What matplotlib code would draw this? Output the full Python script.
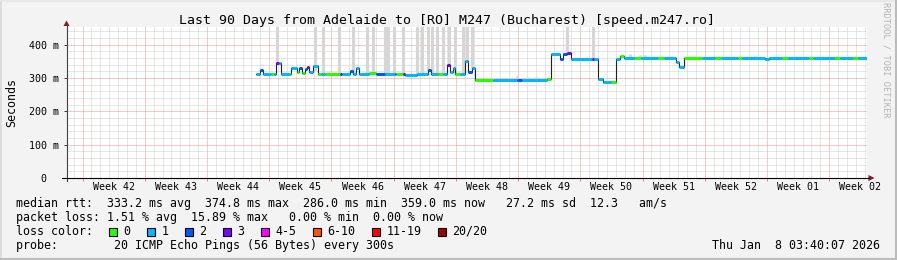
import numpy as np
import matplotlib.pyplot as plt
from matplotlib.lines import Line2D
from matplotlib.patches import Rectangle, Polygon
from matplotlib.ticker import MultipleLocator

W, H = 897, 260
plt.rcParams['font.family'] = ['DejaVu Sans Mono', 'DejaVu Sans']

# median rtt, as steps: start of each step (days since graph start), rtt (ms), loss bucket
seg_day = [21.3, 21.8, 22.1, 23.0, 23.3, 23.6, 23.85, 24.1, 25.1, 25.3, 25.9, 26.2, 26.5,
           26.8, 27.0, 27.3, 27.7, 28.3, 28.6, 29.1, 30.8, 31.0, 31.9, 32.2, 32.6, 32.9,
           34.0, 34.8, 35.8, 36.9, 37.1, 37.9, 38.1, 39.0, 39.4, 40.7, 40.95, 41.8, 42.4,
           42.8, 43.1, 43.5, 43.7, 44.3, 44.8, 45.2, 45.6, 46.0, 48.0, 50.7, 51.2, 54.1,
           54.5, 55.5, 55.9, 56.3, 56.8, 59.1, 59.3, 59.8, 60.4, 61.3, 61.8, 62.3, 62.7,
           64.0, 64.6, 66.5, 67.2, 68.6, 68.9, 69.5, 71.5, 73.0, 73.6, 75.5, 76.0, 78.6,
           79.0, 80.5, 81.2, 83.5, 84.0, 86.5, 87.0, 88.5, 89.0]
seg_rtt = [313, 324, 311, 311, 311, 346, 346, 311, 311, 331, 318, 330, 316,
           326, 334, 318, 336, 312, 311, 311, 311, 311, 322, 311, 330, 311,
           316, 313, 311, 311, 312, 312, 310, 308, 313, 325, 313, 313, 311,
           339, 318, 330, 313, 313, 351, 318, 330, 295, 295, 293, 295, 298,
           373, 356, 372, 376, 358, 358, 358, 298, 287, 288, 357, 367, 360,
           360, 360, 360, 360, 349, 334, 359, 359, 359, 359, 359, 359, 356,
           359, 359, 359, 359, 359, 359, 359, 359, 359]
seg_loss = [1, 2, 1, 0, 1, 3, 1, 1, 0, 1, 0, 2, 0,
            2, 3, 1, 1, 0, 1, 0, 3, 1, 2, 1, 1, 1,
            0, 2, 1, 3, 0, 3, 1, 1, 1, 2, 1, 0, 1,
            3, 1, 1, 0, 1, 1, 2, 1, 0, 1, 2, 1, 0,
            1, 2, 2, 3, 1, 3, 1, 1, 1, 0, 1, 0, 1,
            0, 1, 0, 1, 1, 1, 0, 1, 0, 1, 0, 1, 1,
            1, 0, 1, 0, 1, 0, 1, 0, 1]
end_day = 90.0

# smoke (spread of the pings): day, low, high (ms)
smoke_day = [23.7, 28.0, 28.8, 30.7, 32.2, 33.8, 34.5, 35.8, 36.2, 36.8, 37.9, 39.4,
             40.0, 40.7, 41.1, 41.7, 42.4, 43.0, 43.7, 44.6, 45.1, 45.6, 56.3, 59.2,
             50.7, 51.8, 52.8, 63.4, 64.5, 65.1, 73.0, 77.5]
smoke_lo = [346, 320, 311, 311, 311, 311, 316, 313, 311, 311, 312, 313,
            313, 325, 313, 313, 311, 339, 313, 313, 351, 330, 376, 358,
            293, 295, 295, 360, 360, 360, 359, 359]
smoke_hi = [470, 470, 470, 470, 470, 470, 470, 470, 470, 470, 470, 470,
            470, 470, 470, 470, 470, 470, 470, 470, 470, 470, 470, 470,
            305, 303, 302, 372, 370, 368, 365, 366]

loss_labels = ['0', '1', '2', '3', '4-5', '6-10', '11-19', '20/20']
loss_colors = ['#26ff00', '#00b8ff', '#0059ff', '#7e00ff', '#ff00ff', '#ff5500', '#ff0000', '#a10000']

week_names = ['42', '43', '44', '45', '46', '47', '48', '49', '50', '51', '52', '01', '02']
first_monday = 1.8
y_ticks = [0, 100, 200, 300, 400]

title = 'Last 90 Days from Adelaide to [RO] M247 (Bucharest) [speed.m247.ro]'
rtt_line = ('median rtt:  333.2 ms avg  374.8 ms max  286.0 ms min  '
            '359.0 ms now   27.2 ms sd  12.3   am/s')
loss_line = 'packet loss: 1.51 % avg  15.89 % max   0.00 % min  0.00 % now'
probe_line = 'probe:        20 ICMP Echo Pings (56 Bytes) every 300s'
stamp = 'Thu Jan  8 03:40:07 2026'


def fx(x):
    return x / W


def fy(y):
    return 1 - y / H


fig = plt.figure(figsize=(W / 100, H / 100), dpi=100, facecolor='#f3f3f3')
ax = fig.add_axes([fx(66.5), fy(178), 800 / W, 151 / H])
ax.set_facecolor('white')
ax.set_xlim(0, end_day)
ax.set_ylim(0, 453)

week_lines = [first_monday + 7 * k for k in range(len(week_names))]
ax.set_xticks(week_lines)
ax.set_xticklabels([])
ax.xaxis.set_minor_locator(MultipleLocator(1, offset=first_monday % 1))
ax.set_yticks(y_ticks)
ax.set_yticklabels(['0  '] + [f'{v} m' for v in y_ticks[1:]])
ax.yaxis.set_minor_locator(MultipleLocator(20))
ax.tick_params(axis='y', which='major', length=2.2, width=0.7, color='#404040',
               labelsize=7.2, pad=3)
ax.tick_params(axis='x', which='major', length=2.2, width=0.7, color='#f08080')
ax.tick_params(which='minor', length=0)
ax.grid(which='minor', color='#cfcfcf', ls=(0, (1, 1)), lw=0.72)
ax.grid(which='major', color='#f29090', ls=(0, (1, 1)), lw=0.72)
ax.set_axisbelow(True)
for s in ax.spines.values():
    s.set_visible(False)

# smoke
ax.vlines(smoke_day, smoke_lo, smoke_hi, colors='#d6d6d6', lw=2.2, zorder=2)

# median line, then loss-coloured overlay
ends = seg_day[1:] + [end_day]
ax.step(seg_day + [end_day], seg_rtt + [seg_rtt[-1]], where='post',
        color='#202020', lw=0.8, zorder=3)
ax.hlines(seg_rtt, seg_day, ends, colors=[loss_colors[i] for i in seg_loss],
          lw=2.2, zorder=4)

# week labels centred between week lines
for k, name in enumerate(week_names):
    ax.text(week_lines[k] + 3.5, -0.062, f'Week {name}', transform=ax.get_xaxis_transform(),
            ha='center', va='center', fontsize=7.2)

# axis lines with arrow heads
fig.add_artist(Line2D([fx(66.5), fx(66.5)], [fy(181), fy(25)], color='#404040', lw=0.8))
fig.add_artist(Line2D([fx(62), fx(869)], [fy(178), fy(178)], color='#000000', lw=0.8))
fig.add_artist(Polygon([(fx(63.5), fy(26)), (fx(69.5), fy(26)), (fx(66.5), fy(20.5))],
                       closed=True, color='#8b1a1a', lw=0))
fig.add_artist(Polygon([(fx(868.5), fy(175)), (fx(868.5), fy(181)), (fx(874.5), fy(178))],
                       closed=True, color='#8b1a1a', lw=0))

fig.text(fx(446.5), fy(24), title, ha='center', va='baseline', fontsize=9.5)
fig.text(fx(11.5), fy(102.5), 'Seconds', rotation=90, ha='center', va='center', fontsize=8.4)
fig.text(fx(886), fy(60), 'RRDTOOL / TOBI OETIKER', rotation=270, ha='center', va='center',
         fontsize=6.2, color='#b4b4b4')

# legend rows
fig.text(fx(16), fy(207), rtt_line, ha='left', va='baseline', fontsize=8.4)
fig.text(fx(16), fy(221), loss_line, ha='left', va='baseline', fontsize=8.4)
fig.text(fx(16), fy(235), 'loss color:', ha='left', va='baseline', fontsize=8.4)
fig.text(fx(16), fy(249), probe_line, ha='left', va='baseline', fontsize=8.4)
fig.text(fx(880), fy(249), stamp, ha='right', va='baseline', fontsize=8.4)

bx = 108.5
for lab, col in zip(loss_labels, loss_colors):
    fig.add_artist(Rectangle((fx(bx), fy(236)), 8 / W, 8 / H, facecolor=col,
                             edgecolor='black', lw=0.8))
    fig.text(fx(bx + 15), fy(235), lab, ha='left', va='baseline', fontsize=8.4)
    bx += 15 + 7 * len(lab) + 16

# image border
fig.add_artist(Line2D([fx(0.5), fx(0.5)], [fy(0), fy(260)], color='#d8d8d8', lw=1.2))
fig.add_artist(Line2D([fx(0), fx(897)], [fy(0.5), fy(0.5)], color='#e6e6e6', lw=1.2))
fig.add_artist(Line2D([fx(896), fx(896)], [fy(0), fy(260)], color='#bcbcbc', lw=1.5))
fig.add_artist(Line2D([fx(0), fx(897)], [fy(259), fy(259)], color='#bcbcbc', lw=1.5))

fig.savefig('out.png', dpi=100, facecolor=fig.get_facecolor())
